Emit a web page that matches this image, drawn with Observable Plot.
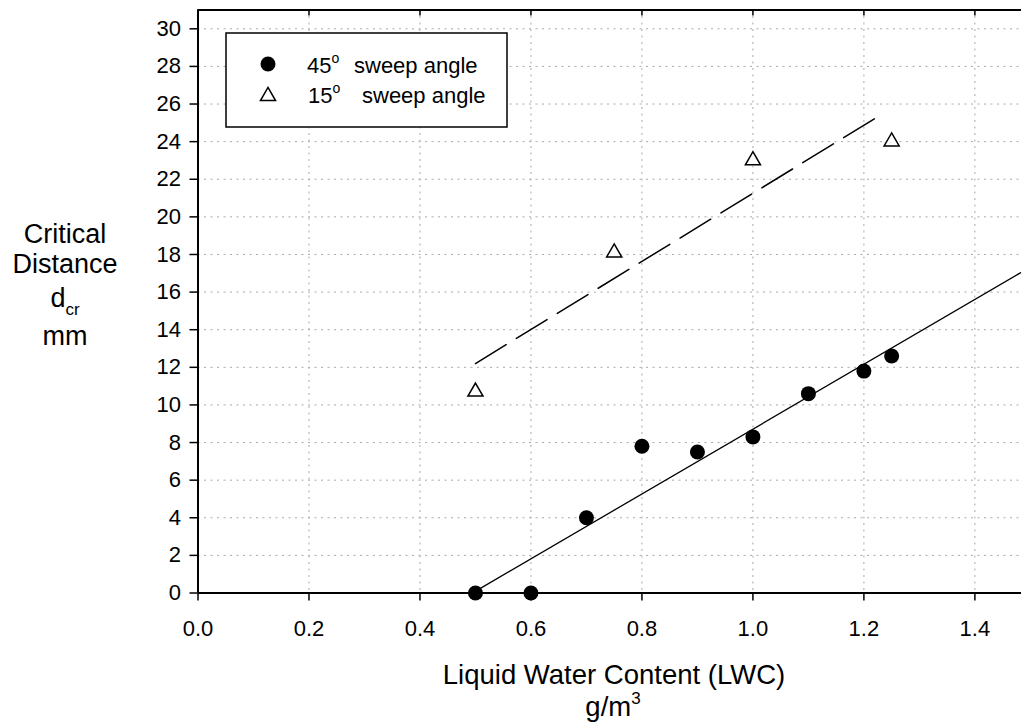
<!DOCTYPE html>
<html><head><meta charset="utf-8">
<script src="https://cdn.jsdelivr.net/npm/d3@7"></script>
<script src="https://cdn.jsdelivr.net/npm/@observablehq/plot@0.6"></script>
<style>body{margin:0;background:#fff;} svg{display:block;}</style>
</head><body><div id="chart"></div>
<script>
// 45° sweep angle measurements
const lwc45 = [0.5, 0.6, 0.7, 0.8, 0.9, 1.0, 1.1, 1.2, 1.25];
const dcr45 = [0, 0, 4.0, 7.8, 7.5, 8.3, 10.6, 11.8, 12.6];
// 15° sweep angle measurements
const lwc15 = [0.5, 0.75, 1.0, 1.25];
const dcr15 = [10.7, 18.1, 23.0, 24.0];
// fitted lines (end points)
const fit45X = [0.505, 1.484];
const fit45Y = [0.18, 17.06];
const fit15X = [0.5, 1.229];
const fit15Y = [12.2, 25.4];
// axes
const xTicks = [0.0, 0.2, 0.4, 0.6, 0.8, 1.0, 1.2, 1.4];
const yTicks = [0, 2, 4, 6, 8, 10, 12, 14, 16, 18, 20, 22, 24, 26, 28, 30];
const xDomain = [0, 1.484];
const yDomain = [0, 31];
const legendAngles = ["45", "15"];
const legendText = "sweep angle";
const xTitle = "Liquid Water Content (LWC)";
const FONT = "'Liberation Sans', Arial, Helvetica, sans-serif";

const gridStyle = {stroke: "#a8a8a8", strokeOpacity: 1, strokeWidth: 1, strokeDasharray: "2,4.5"};

const svg = Plot.plot({
  width: 1021,
  height: 728,
  marginLeft: 197.5,
  marginRight: 0,
  marginTop: 9.5,
  marginBottom: 135.5,
  style: {fontFamily: FONT, fontSize: "22px", color: "black", background: "white"},
  x: {domain: xDomain},
  y: {domain: yDomain},
  marks: [
    Plot.gridX(xTicks, gridStyle),
    Plot.gridY(yTicks, gridStyle),
    Plot.line(fit45X, {x: fit45X, y: fit45Y, stroke: "black", strokeWidth: 1.3}),
    Plot.line(fit15X, {x: fit15X, y: fit15Y, stroke: "black", strokeWidth: 1.5, strokeDasharray: "36,12"}),
    Plot.ruleX([xDomain[0]], {stroke: "black", strokeWidth: 2}),
    Plot.ruleY([yDomain[0]], {stroke: "black", strokeWidth: 2}),
    Plot.ruleY([yDomain[1]], {stroke: "black", strokeWidth: 2}),
    Plot.axisY({ticks: yTicks, tickSize: 8, tickPadding: 9, label: null, strokeWidth: 1.5, fontSize: 22}),
    Plot.axisX({ticks: xTicks, tickSize: 8, tickPadding: 19, label: null, strokeWidth: 1.5, fontSize: 22, tickFormat: d3.format(".1f")}),
    Plot.axisX({anchor: "top", ticks: xTicks, tickSize: -5, label: null, strokeWidth: 1.5, tickFormat: () => ""}),
    Plot.dot(lwc45, {x: lwc45, y: dcr45, r: 7.5, fill: "black", stroke: null}),
    Plot.dot(lwc15, {x: lwc15, y: dcr15, symbol: "triangle", r: 5.6, fill: "white", stroke: "black", strokeWidth: 1.5})
  ]
});

const s = d3.select(svg);
// X axis title
s.append("text").attr("x", 614).attr("y", 684).attr("text-anchor", "middle")
  .attr("font-family", FONT).attr("font-size", 27.5).attr("fill", "black").text(xTitle);
const u = s.append("text").attr("x", 613).attr("y", 716).attr("text-anchor", "middle")
  .attr("font-family", FONT).attr("font-size", 27.5).attr("fill", "black");
u.append("tspan").text("g/m");
u.append("tspan").attr("font-size", 17).attr("dy", -12).text("3");

// Y axis title
const yl = [["Critical", 243], ["Distance", 273]];
yl.forEach(([t, y]) => s.append("text").attr("x", 65).attr("y", y).attr("text-anchor", "middle")
  .attr("font-family", FONT).attr("font-size", 27).attr("fill", "black").text(t));
const d = s.append("text").attr("x", 65).attr("y", 307).attr("text-anchor", "middle")
  .attr("font-family", FONT).attr("font-size", 27).attr("fill", "black");
d.append("tspan").text("d");
d.append("tspan").attr("font-size", 17).attr("dy", 8).text("cr");
s.append("text").attr("x", 65).attr("y", 345).attr("text-anchor", "middle")
  .attr("font-family", FONT).attr("font-size", 27).attr("fill", "black").text("mm");

// Legend
const lg = s.append("g").attr("text-anchor", "start");
lg.append("rect").attr("x", 226).attr("y", 33).attr("width", 281).attr("height", 94)
  .attr("fill", "white").attr("stroke", "black").attr("stroke-width", 1.5);
lg.append("circle").attr("cx", 268).attr("cy", 64).attr("r", 7.5).attr("fill", "black");
lg.append("path").attr("transform", "translate(268,96.2)")
  .attr("d", d3.symbol(d3.symbolTriangle, Math.PI * 5.6 * 5.6)())
  .attr("fill", "white").attr("stroke", "black").attr("stroke-width", 1.5);
const rows = [[72.5, 307, 354], [102.7, 308, 362]];
rows.forEach(([by, x1, x2], i) => {
  const t = lg.append("text").attr("x", x1).attr("y", by).attr("text-anchor", "start")
    .attr("font-family", FONT).attr("font-size", 22).attr("fill", "black");
  t.append("tspan").text(legendAngles[i]);
  t.append("tspan").attr("font-size", 14).attr("dy", -10).text("o");
  lg.append("text").attr("x", x2).attr("y", by).attr("text-anchor", "start")
    .attr("font-family", FONT).attr("font-size", 22).attr("fill", "black").text(legendText);
});

document.getElementById("chart").appendChild(svg);
</script>
</body></html>
